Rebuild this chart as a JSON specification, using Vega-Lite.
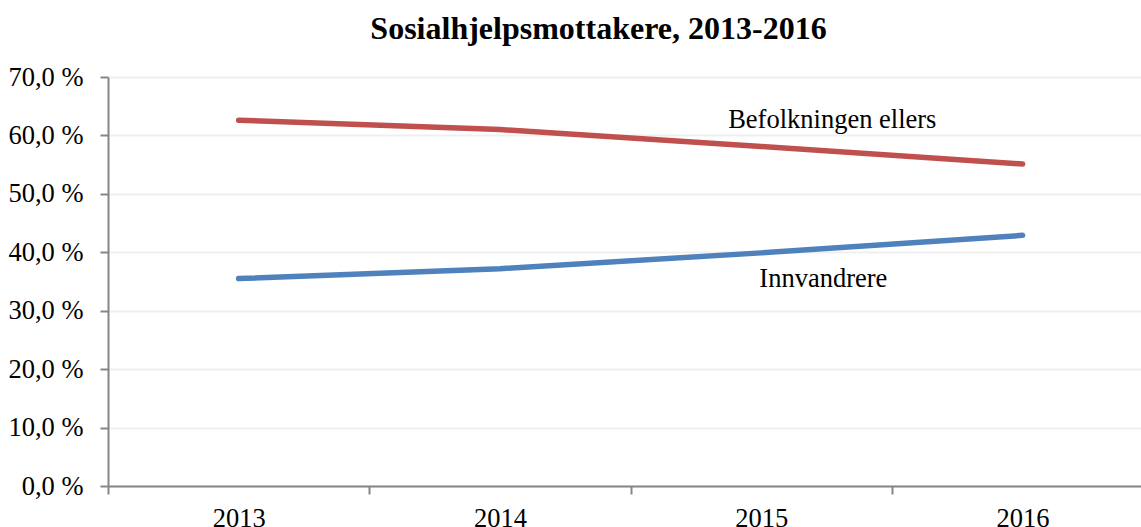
{
  "$schema": "https://vega.github.io/schema/vega-lite/v6.json",
  "width": 1033,
  "height": 409,
  "autosize": {"type": "none"},
  "padding": {"left": 108, "top": 77, "right": 0, "bottom": 41},
  "background": "white",
  "title": {
    "text": "Sosialhjelpsmottakere, 2013-2016",
    "font": "Liberation Serif",
    "fontSize": 32,
    "fontWeight": "bold",
    "color": "black",
    "anchor": "middle",
    "dx": -26,
    "offset": 18
  },
  "config": {
    "view": {"stroke": null},
    "axis": {"labelFont": "Liberation Serif", "labelFontSize": 26.5, "labelColor": "black"}
  },
  "data": {
    "values": [
      {"year": 2013, "series": "Befolkningen ellers", "value": 62.6},
      {"year": 2014, "series": "Befolkningen ellers", "value": 61.0},
      {"year": 2015, "series": "Befolkningen ellers", "value": 58.1},
      {"year": 2016, "series": "Befolkningen ellers", "value": 55.1},
      {"year": 2013, "series": "Innvandrere", "value": 35.5},
      {"year": 2014, "series": "Innvandrere", "value": 37.2},
      {"year": 2015, "series": "Innvandrere", "value": 39.9},
      {"year": 2016, "series": "Innvandrere", "value": 42.9}
    ]
  },
  "layer": [
    {
      "mark": {"type": "rule", "opacity": 0},
      "encoding": {
        "x": {
          "field": "year",
          "type": "quantitative",
          "scale": {"domain": [2012.5, 2016.453], "nice": false, "zero": false},
          "axis": {
            "orient": "bottom",
            "values": [2012.5, 2013.5, 2014.5, 2015.5],
            "labels": false,
            "title": null,
            "grid": false,
            "domainColor": "#868686",
            "domainWidth": 2,
            "tickColor": "#868686",
            "tickWidth": 2,
            "tickSize": 8
          }
        }
      }
    },
    {
      "mark": {"type": "line", "strokeWidth": 5.5, "strokeCap": "round", "clip": true},
      "encoding": {
        "x": {
          "field": "year",
          "type": "quantitative",
          "axis": {
            "orient": "bottom",
            "values": [2013, 2014, 2015, 2016],
            "format": "d",
            "title": null,
            "grid": false,
            "domain": false,
            "ticks": false,
            "labelPadding": 19
          }
        },
        "y": {
          "field": "value",
          "type": "quantitative",
          "scale": {"domain": [0, 70], "nice": false},
          "axis": {
            "values": [0, 10, 20, 30, 40, 50, 60, 70],
            "labelExpr": "replace(format(datum.value, '.1f'), '.', ',') + ' %'",
            "title": null,
            "grid": true,
            "gridColor": "#efefef",
            "gridWidth": 2,
            "domainColor": "#868686",
            "domainWidth": 2,
            "tickColor": "#868686",
            "tickWidth": 2,
            "tickSize": 8,
            "labelPadding": 17
          }
        },
        "color": {
          "field": "series",
          "type": "nominal",
          "scale": {"domain": ["Befolkningen ellers", "Innvandrere"], "range": ["#C0504D", "#4F81BD"]},
          "legend": null
        }
      }
    },
    {
      "data": {"values": [{"label": "Befolkningen ellers"}]},
      "mark": {"type": "text", "font": "Liberation Serif", "fontSize": 26.5, "fill": "black", "align": "center", "baseline": "alphabetic", "dx": 71},
      "encoding": {
        "x": {"datum": 2015, "type": "quantitative", "axis": null},
        "y": {"datum": 61.3, "type": "quantitative"},
        "text": {"field": "label", "type": "nominal"}
      }
    },
    {
      "data": {"values": [{"label": "Innvandrere"}]},
      "mark": {"type": "text", "font": "Liberation Serif", "fontSize": 26.5, "fill": "black", "align": "center", "baseline": "alphabetic", "dx": 62},
      "encoding": {
        "x": {"datum": 2015, "type": "quantitative", "axis": null},
        "y": {"datum": 34.1, "type": "quantitative"},
        "text": {"field": "label", "type": "nominal"}
      }
    }
  ],
  "resolve": {"axis": {"x": "independent"}}
}
